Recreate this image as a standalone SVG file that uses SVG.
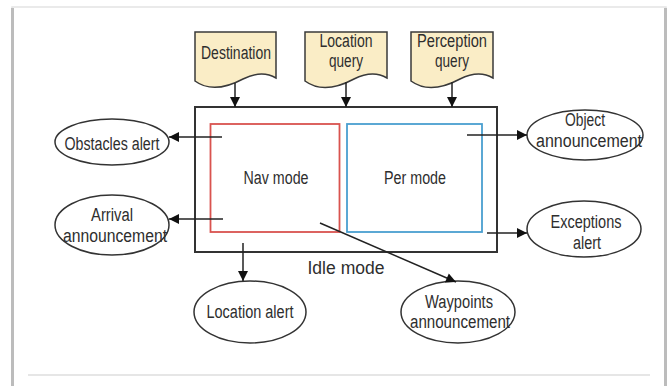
<svg xmlns="http://www.w3.org/2000/svg" width="668" height="386" viewBox="0 0 668 386">
<style>
text{font-family:"Liberation Sans",Arial,sans-serif;font-size:18px;fill:#2e2e2e;text-anchor:middle}
.doc{fill:#FAEDC6;stroke:#3a3a3a;stroke-width:1.5}
.ell{fill:#fff;stroke:#333;stroke-width:1.5}
.con{stroke:#222;stroke-width:1.5;fill:none;marker-end:url(#ah)}
</style>
<defs>
<marker id="ah" viewBox="0 0 10 10" refX="10" refY="5" markerWidth="11" markerHeight="10" markerUnits="userSpaceOnUse" orient="auto">
<path d="M0,0 L10,5 L0,10 z" fill="#111"/>
</marker>
</defs>
<rect x="0" y="0" width="668" height="386" fill="#fff"/>
<g id="card">
<rect x="12" y="7" width="654" height="392" fill="#fff" stroke="#e4e4e4" stroke-width="1.5"/>
<line x1="12.5" y1="8" x2="12.5" y2="386" stroke="#bcbcbc" stroke-width="3"/>
<line x1="665.5" y1="8" x2="665.5" y2="386" stroke="#bcbcbc" stroke-width="3"/>
<line x1="28" y1="375" x2="650" y2="375" stroke="#e6e6e6" stroke-width="2"/>
</g>
<g id="idle">
<rect x="195" y="107" width="302" height="145" fill="#fff" stroke="#333" stroke-width="2"/>
<text x="346" y="274" textLength="77" lengthAdjust="spacingAndGlyphs">Idle mode</text>
</g>
<g id="nav">
<rect x="210.5" y="124" width="129" height="108" fill="none" stroke="#d9534f" stroke-width="1.8"/>
<text x="276" y="184" textLength="65" lengthAdjust="spacingAndGlyphs">Nav mode</text>
</g>
<g id="per">
<rect x="347" y="124" width="135" height="108" fill="none" stroke="#4a9fd0" stroke-width="1.8"/>
<text x="415" y="184" textLength="62" lengthAdjust="spacingAndGlyphs">Per mode</text>
</g>
<g id="destination">
<path class="doc" d="M195,32 H276 V78 C266,72 255,73 243,79 C228,87 210,92 195,81 Z"/>
<text x="236" y="59" textLength="70" lengthAdjust="spacingAndGlyphs">Destination</text>
</g>
<g id="location-query">
<path class="doc" d="M305,32 H387 V78 C377,72 366,73 354,79 C339,87 320,92 305,81 Z"/>
<text x="346" y="47" textLength="53" lengthAdjust="spacingAndGlyphs">Location</text>
<text x="346" y="67" textLength="34" lengthAdjust="spacingAndGlyphs">query</text>
</g>
<g id="perception-query">
<path class="doc" d="M411,32 H493 V78 C483,72 472,73 460,79 C445,87 426,92 411,81 Z"/>
<text x="452" y="47" textLength="70" lengthAdjust="spacingAndGlyphs">Perception</text>
<text x="452" y="67" textLength="34" lengthAdjust="spacingAndGlyphs">query</text>
</g>
<g id="obstacles-alert">
<ellipse class="ell" cx="112" cy="142" rx="57" ry="23"/>
<text x="112" y="150" textLength="95" lengthAdjust="spacingAndGlyphs">Obstacles alert</text>
</g>
<g id="arrival-announcement">
<ellipse class="ell" cx="112" cy="225" rx="57" ry="30"/>
<text x="112" y="221" textLength="42" lengthAdjust="spacingAndGlyphs">Arrival</text>
<text x="115" y="242" textLength="104" lengthAdjust="spacingAndGlyphs">announcement</text>
</g>
<g id="object-announcement">
<ellipse class="ell" cx="585" cy="135" rx="58" ry="25"/>
<text x="585" y="126" textLength="40" lengthAdjust="spacingAndGlyphs">Object</text>
<text x="589" y="147" textLength="106" lengthAdjust="spacingAndGlyphs">announcement</text>
</g>
<g id="exceptions-alert">
<ellipse class="ell" cx="584" cy="229" rx="57" ry="28"/>
<text x="586" y="228" textLength="71" lengthAdjust="spacingAndGlyphs">Exceptions</text>
<text x="587" y="249" textLength="28" lengthAdjust="spacingAndGlyphs">alert</text>
</g>
<g id="location-alert">
<ellipse class="ell" cx="250" cy="312" rx="56" ry="31"/>
<text x="250" y="318" textLength="87" lengthAdjust="spacingAndGlyphs">Location alert</text>
</g>
<g id="waypoints-announcement">
<ellipse class="ell" cx="458" cy="312" rx="57" ry="31"/>
<text x="459" y="308" textLength="68" lengthAdjust="spacingAndGlyphs">Waypoints</text>
<text x="460" y="328" textLength="100" lengthAdjust="spacingAndGlyphs">announcement</text>
</g>
<g id="connectors">
<line class="con" x1="235" y1="83" x2="235" y2="107"/>
<line class="con" x1="346" y1="82" x2="346" y2="107"/>
<line class="con" x1="452" y1="82" x2="452" y2="107"/>
<line class="con" x1="222" y1="137" x2="169" y2="137"/>
<line class="con" x1="223" y1="219" x2="169" y2="219"/>
<line class="con" x1="467" y1="135" x2="527" y2="135"/>
<line class="con" x1="487" y1="233" x2="527" y2="233"/>
<line class="con" x1="243" y1="243" x2="243" y2="281"/>
<line class="con" x1="320" y1="223" x2="456" y2="282"/>
</g>
</svg>
